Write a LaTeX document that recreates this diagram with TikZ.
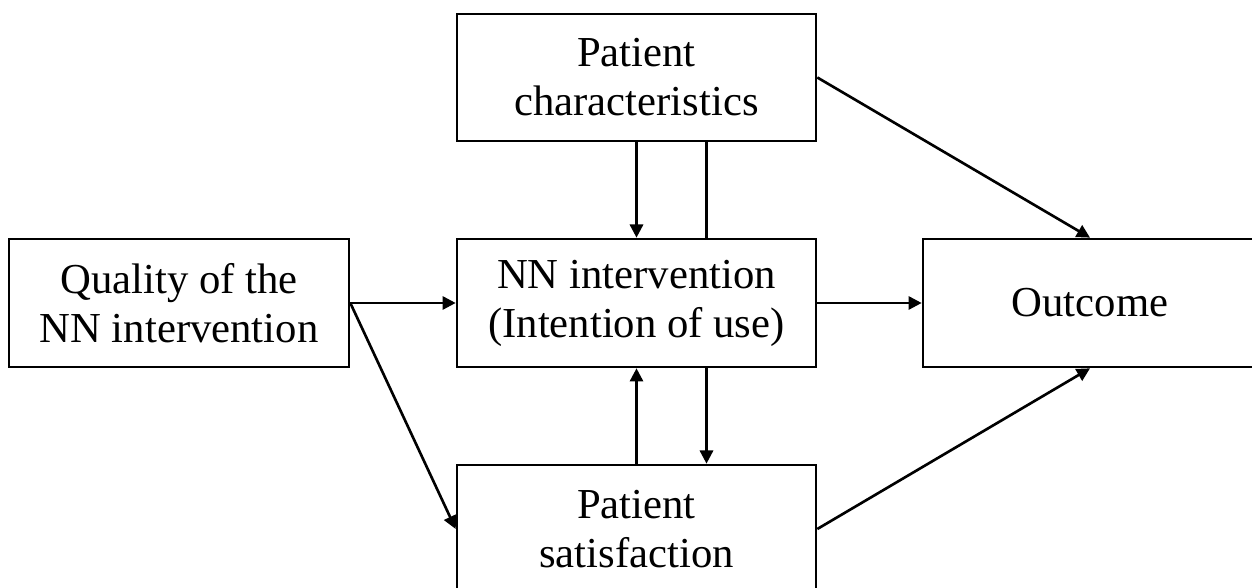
\documentclass[tikz,border=0pt]{standalone}
\usepackage{fontspec}
\setmainfont{Liberation Serif}
\usetikzlibrary{arrows.meta}

\tikzset{
  Box/.style={draw, line width=1.5pt, align=center, inner sep=0pt,
    minimum width=7.18cm, minimum height=2.56cm,
    font=\fontsize{24.3}{27.9}\selectfont},
  Link/.style={line width=1.5pt, -{Triangle[length=7.5pt,width=7.5pt]}},
  Plain/.style={line width=1.5pt},
}

\begin{document}
\begin{tikzpicture}
\clip (0,0) rectangle (25.04,11.76);
% boxes
\node[Box, minimum height=2.54cm] (chars) at (12.73,10.21) {Patient\\characteristics};
\node[Box] (nn) at (12.73,5.70) {NN intervention\\(Intention of use)};
\node[Box] (sat) at (12.73,1.18) {Patient\\satisfaction};
\node[Box, minimum width=6.80cm] (quality) at (3.58,5.70) {Quality of the\\NN intervention};
\node[Box, minimum width=6.68cm] (outcome) at (21.80,5.70) {Outcome};
% links
\draw[Link] (chars.south) -- (nn.north);
\draw[Plain] ([xshift=1.4cm]chars.south) -- ([xshift=1.4cm]nn.north);
\draw[Link] (sat.north) -- (nn.south);
\draw[Link] ([xshift=1.4cm]nn.south) -- ([xshift=1.4cm]sat.north);
\draw[Link] (quality.east) -- (nn.west);
\draw[Link] (quality.east) -- (sat.west);
\draw[Link] (nn.east) -- (outcome.west);
\draw[Link] (chars.east) -- (outcome.north);
\draw[Link] (sat.east) -- (outcome.south);
\end{tikzpicture}
\end{document}
